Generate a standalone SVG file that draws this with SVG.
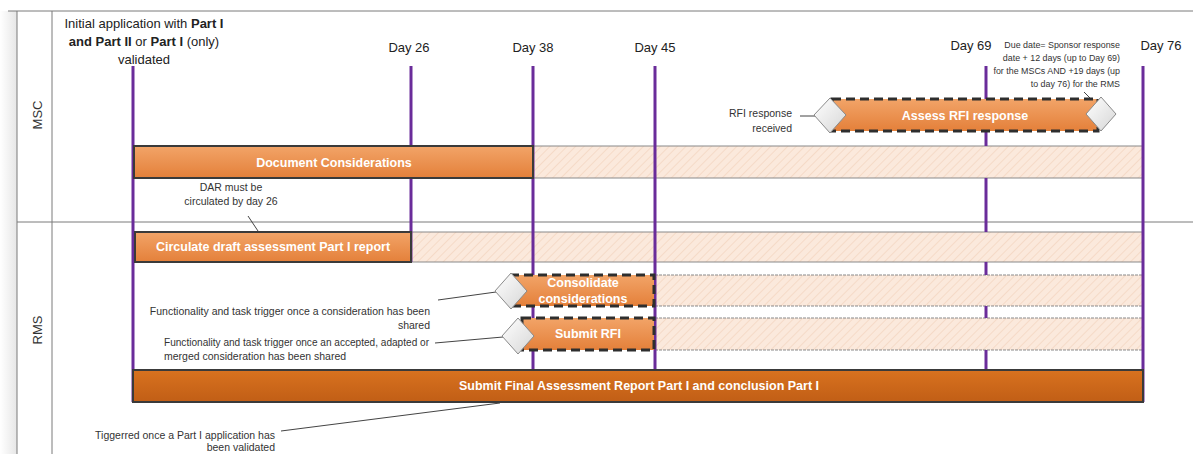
<svg xmlns="http://www.w3.org/2000/svg" width="1193" height="454" viewBox="0 0 1193 454">
<style>
text{font-family:"Liberation Sans",Arial,sans-serif;fill:#333}
.day{font-size:13px;text-anchor:middle;fill:#222}
.bar{stroke:#3a3a3a;stroke-width:2}
.barlbl{font-weight:bold;fill:#fff;text-anchor:middle;font-size:12.5px}
.dash{stroke:#2e2e2e;stroke-width:3;stroke-dasharray:9,5;fill:url(#gOr)}
.hatch{fill:url(#hatch);stroke:none}
.hb{stroke:#8a8a8a;stroke-width:1.2}
.hbd{stroke:#8a8a8a;stroke-width:1.2;stroke-dasharray:3,1}
.vl{stroke:#6a2c9a;stroke-width:3}
.lead{stroke:#444;stroke-width:1;fill:none}
.dia{fill:url(#gDia);stroke:#8a8a8a;stroke-width:1}
.note{font-size:10.5px}
.lane{stroke:#7a7a7a;stroke-width:1}
</style>
<defs>
<linearGradient id="gOr" x1="0" y1="0" x2="0" y2="1">
<stop offset="0" stop-color="#f2a468"/><stop offset="1" stop-color="#e4803a"/>
</linearGradient>
<linearGradient id="gDk" x1="0" y1="0" x2="0" y2="1">
<stop offset="0" stop-color="#d8721f"/><stop offset="1" stop-color="#c15e16"/>
</linearGradient>
<linearGradient id="gDia" x1="0" y1="0" x2="1" y2="1">
<stop offset="0" stop-color="#ffffff"/><stop offset="1" stop-color="#d6d6d6"/>
</linearGradient>
<linearGradient id="gSide" x1="0" y1="0" x2="1" y2="0">
<stop offset="0" stop-color="#ffffff"/><stop offset="1" stop-color="#e6e6e6"/>
</linearGradient>
<pattern id="hatch" patternUnits="userSpaceOnUse" width="6" height="6" patternTransform="rotate(45)">
<rect width="6" height="6" fill="#fbe9dc"/>
<line x1="0" y1="0" x2="0" y2="6" stroke="#f4d6c0" stroke-width="1.5"/>
</pattern>
</defs>
<rect width="1193" height="454" fill="#fff"/>

<g id="frame">
<rect x="0" y="11" width="17" height="443" fill="url(#gSide)"/>
<line class="lane" x1="8" y1="11" x2="1193" y2="11" stroke-width="1.5"/>
<line class="lane" x1="17" y1="11" x2="17" y2="454"/>
<line class="lane" x1="52" y1="11" x2="52" y2="454"/>
<line class="lane" x1="17" y1="222" x2="1193" y2="222"/>
<text transform="translate(42,115) rotate(-90)" font-size="13" text-anchor="middle" fill="#222">MSC</text>
<text transform="translate(42,330) rotate(-90)" font-size="13" text-anchor="middle" fill="#222">RMS</text>
</g>

<g id="hatched">
<rect class="hatch" x="533" y="146" width="610" height="32"/>
<line class="hb" x1="533" y1="146" x2="1143" y2="146"/><line class="hb" x1="533" y1="178" x2="1143" y2="178"/>
<rect class="hatch" x="411" y="232" width="732" height="30"/>
<line class="hb" x1="411" y1="232" x2="1143" y2="232"/><line class="hb" x1="411" y1="262" x2="1143" y2="262"/>
<rect class="hatch" x="655" y="275" width="488" height="31"/>
<line class="hbd" x1="655" y1="275" x2="1143" y2="275"/><line class="hbd" x1="655" y1="306" x2="1143" y2="306"/>
<rect class="hatch" x="655" y="318" width="488" height="32"/>
<line class="hbd" x1="655" y1="318" x2="1143" y2="318"/><line class="hbd" x1="655" y1="350" x2="1143" y2="350"/>
</g>

<g id="timeline">
<text class="day" x="144" y="28" font-size="12.8">Initial application with <tspan font-weight="bold">Part I</tspan></text>
<text class="day" x="144" y="46" font-size="12.8"><tspan font-weight="bold">and Part II</tspan> or <tspan font-weight="bold">Part I</tspan>  (only)</text>
<text class="day" x="144" y="64" font-size="12.8">validated</text>
<text class="day" x="409" y="52">Day 26</text>
<text class="day" x="533" y="52">Day 38</text>
<text class="day" x="655" y="52">Day 45</text>
<text class="day" x="971" y="50">Day 69</text>
<text class="day" x="1161" y="50">Day 76</text>
<line class="vl" x1="133" y1="66" x2="133" y2="402"/>
<line class="vl" x1="411" y1="66" x2="411" y2="262"/>
<line class="vl" x1="533" y1="66" x2="533" y2="370"/>
<line class="vl" x1="655" y1="66" x2="655" y2="370"/>
<line class="vl" x1="986" y1="66" x2="986" y2="146"/>
<line class="vl" x1="986" y1="178" x2="986" y2="232"/>
<line class="vl" x1="986" y1="262" x2="986" y2="275"/>
<line class="vl" x1="986" y1="306" x2="986" y2="318"/>
<line class="vl" x1="986" y1="350" x2="986" y2="370"/>
<line class="vl" x1="1143" y1="66" x2="1143" y2="402"/>
</g>

<g id="connectors">
<line class="lead" x1="248" y1="216" x2="258" y2="231"/>
<line class="lead" x1="800" y1="116" x2="816" y2="116"/>
<line class="lead" x1="1084" y1="92" x2="1094" y2="102"/>
<line class="lead" x1="438" y1="300" x2="496" y2="292"/>
<line class="lead" x1="435" y1="343" x2="503" y2="337"/>
<line class="lead" x1="281" y1="431" x2="500" y2="403"/>
</g>

<g id="doc-considerations">
<rect class="bar" x="134" y="146" width="399" height="32" fill="url(#gOr)"/>
<text class="barlbl" x="334" y="167">Document Considerations</text>
</g>

<g id="dar-note">
<text class="note" x="231" y="191" text-anchor="middle" font-size="11.3">DAR must be</text>
<text class="note" x="231" y="205" text-anchor="middle" font-size="11.3">circulated by day 26</text>
</g>

<g id="circulate-draft">
<rect class="bar" x="135" y="232" width="276" height="30" fill="url(#gOr)"/>
<text class="barlbl" x="273" y="251">Circulate draft assessment Part I report</text>
</g>

<g id="assess-rfi">
<rect class="dash" x="832" y="99" width="266" height="32"/>
<text class="barlbl" x="965" y="120">Assess RFI response</text>
<polygon class="dia" points="830,98 846,115 830,133 814,115"/>
<polygon class="dia" points="1101,97 1116,114 1101,131 1086,114"/>
</g>

<g id="rfi-received">
<text class="note" x="792" y="117" text-anchor="end">RFI response</text>
<text class="note" x="792" y="132" text-anchor="end">received</text>
</g>

<g id="due-date">
<text x="1120" y="48" text-anchor="end" font-size="8.9">Due date= Sponsor response</text>
<text x="1120" y="61" text-anchor="end" font-size="8.9">date + 12 days (up to Day 69)</text>
<text x="1120" y="74" text-anchor="end" font-size="8.9">for the MSCs AND +19 days (up</text>
<text x="1120" y="87" text-anchor="end" font-size="8.9">to day 76) for the RMS</text>
</g>

<g id="consolidate">
<rect class="dash" x="510" y="275" width="144" height="31"/>
<text class="barlbl" x="583" y="287">Consolidate</text>
<text class="barlbl" x="583" y="303">considerations</text>
<polygon class="dia" points="511,273 527,291 511,309 495,291"/>
</g>

<g id="submit-rfi">
<rect class="dash" x="522" y="318" width="132" height="32"/>
<text class="barlbl" x="588" y="338">Submit RFI</text>
<polygon class="dia" points="518,318 534,336 518,354 502,336"/>
</g>

<g id="func-notes">
<text class="note" x="430" y="315" text-anchor="end" font-size="9.3">Functionality and task trigger once a consideration has been</text>
<text class="note" x="430" y="329" text-anchor="end" font-size="9.3">shared</text>
<text class="note" x="164" y="346" font-size="9.2" textLength="265" lengthAdjust="spacingAndGlyphs">Functionality and task trigger once an accepted, adapted or</text>
<text class="note" x="164" y="360" font-size="9.2">merged consideration has been shared</text>
</g>

<g id="submit-final">
<rect class="bar" x="133" y="370" width="1010" height="32" fill="url(#gDk)"/>
<text class="barlbl" x="639" y="390" font-size="12.3">Submit Final Assessment Report Part I and conclusion Part I</text>
</g>

<g id="triggered-note">
<text class="note" x="275" y="439" text-anchor="end" font-size="10.4">Tiggerred once a Part I application has</text>
<text class="note" x="275" y="451" text-anchor="end" font-size="10.4">been validated</text>
</g>
</svg>
